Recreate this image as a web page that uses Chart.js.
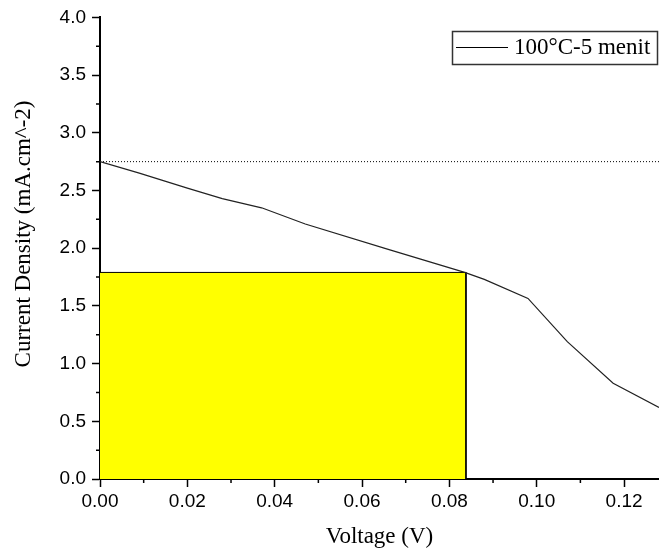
<!DOCTYPE html>
<html><head><meta charset="utf-8">
<script src="https://cdn.jsdelivr.net/npm/chart.js@4.4.1/dist/chart.umd.min.js"></script>
<style>html,body{margin:0;padding:0;background:#fff;} #wrap{width:659px;height:553px;position:relative;}</style>
</head><body><div id="wrap"><canvas id="c"></canvas></div>
<script>
// ---- data ----
const voltage = [0, 0.009, 0.020, 0.028, 0.037, 0.047, 0.066, 0.0835, 0.088, 0.098, 0.107, 0.1175, 0.128];
const currentDensity = [2.75, 2.65, 2.52, 2.43, 2.35, 2.21, 1.99, 1.79, 1.73, 1.565, 1.19, 0.83, 0.62];
const seriesLabel = '100°C-5 menit';
const iscLineX = [0, 0.128];
const iscLineY = [2.75, 2.75];
const mppRectX = [0, 0.0838, 0.0838];
const mppRectY = [1.79, 1.79, 0];
const xTicks = [0, 0.02, 0.04, 0.06, 0.08, 0.10, 0.12];
const xMinorTicks = [0.01, 0.03, 0.05, 0.07, 0.09, 0.11];
const yTicks = [0, 0.5, 1.0, 1.5, 2.0, 2.5, 3.0, 3.5, 4.0];
const yMinorTicks = [0.25, 0.75, 1.25, 1.75, 2.25, 2.75, 3.25, 3.75];
const xTitle = 'Voltage (V)';
const yTitle = 'Current Density (mA.cm^-2)';

const pts = (xs, ys) => xs.map((x, i) => ({x, y: ys[i]}));
const serif = "'Liberation Serif', 'Times New Roman', serif";
const sans = "'Liberation Sans', Arial, sans-serif";

const extras = {
  id: 'extras',
  afterDraw(chart) {
    const {ctx, chartArea: a, scales: {x, y}} = chart;
    ctx.save();
    ctx.strokeStyle = '#000';
    ctx.lineWidth = 1.5;
    ctx.beginPath();
    xMinorTicks.forEach(v => { const p = x.getPixelForValue(v); ctx.moveTo(p, a.bottom); ctx.lineTo(p, a.bottom + 4); });
    yMinorTicks.forEach(v => { const p = y.getPixelForValue(v); ctx.moveTo(a.left, p); ctx.lineTo(a.left - 4, p); });
    ctx.stroke();
    // y title
    ctx.fillStyle = '#000';
    ctx.font = '23px ' + serif;
    ctx.textAlign = 'center';
    ctx.textBaseline = 'middle';
    ctx.translate(24, 234);
    ctx.rotate(-Math.PI / 2);
    ctx.fillText(yTitle, 0, 0);
    ctx.restore();
    // legend
    ctx.save();
    ctx.strokeStyle = '#333';
    ctx.lineWidth = 1.5;
    ctx.strokeRect(452.5, 31.5, 205, 33);
    ctx.strokeStyle = '#000';
    ctx.lineWidth = 1;
    ctx.beginPath(); ctx.moveTo(456, 47.5); ctx.lineTo(508, 47.5); ctx.stroke();
    ctx.fillStyle = '#000';
    ctx.font = '23px ' + serif;
    ctx.textAlign = 'left';
    ctx.textBaseline = 'middle';
    ctx.fillText(chart.data.datasets[0].label, 514, 48);
    ctx.restore();
  }
};

new Chart(document.getElementById('c'), {
  type: 'line',
  data: {
    datasets: [
      { label: seriesLabel, data: pts(voltage, currentDensity), borderColor: '#222', borderWidth: 1.2, pointRadius: 0, fill: false, tension: 0 },
      { label: 'Isc', data: pts(iscLineX, iscLineY), borderColor: '#000', borderWidth: 1, borderDash: [1, 2], pointRadius: 0, fill: false },
      { label: 'Pmax', data: pts(mppRectX, mppRectY), borderColor: '#000', borderWidth: 1, pointRadius: 0, fill: 'origin', backgroundColor: '#ffff00' }
    ]
  },
  options: {
    responsive: true, maintainAspectRatio: false, animation: false, devicePixelRatio: 1,
    layout: { padding: { top: 17, right: 0, left: 0, bottom: 0 } },
    plugins: { legend: { display: false }, tooltip: { enabled: false } },
    scales: {
      x: {
        type: 'linear', min: 0, max: 0.128,
        afterBuildTicks: s => { s.ticks = xTicks.map(v => ({value: v})); },
        afterFit: s => { s.height = 74; },
        ticks: { padding: 3, color: '#000', font: { family: sans, size: 19 }, maxRotation: 0, callback: v => v.toFixed(2) },
        grid: { drawOnChartArea: false, drawTicks: true, tickLength: 8, tickColor: '#000', tickWidth: 1.5 },
        border: { display: true, color: '#000', width: 2 },
        title: { display: true, text: xTitle, color: '#000', font: { family: serif, size: 23 }, padding: { top: 0, bottom: 2 } }
      },
      y: {
        type: 'linear', min: 0, max: 4,
        afterBuildTicks: s => { s.ticks = yTicks.map(v => ({value: v})); },
        afterFit: s => { s.width = 100; },
        ticks: { padding: 6, color: '#000', font: { family: sans, size: 19 }, callback: v => v.toFixed(1) },
        grid: { drawOnChartArea: false, drawTicks: true, tickLength: 8, tickColor: '#000', tickWidth: 1.5 },
        border: { display: true, color: '#000', width: 2 }
      }
    }
  },
  plugins: [extras]
});
</script></body></html>
